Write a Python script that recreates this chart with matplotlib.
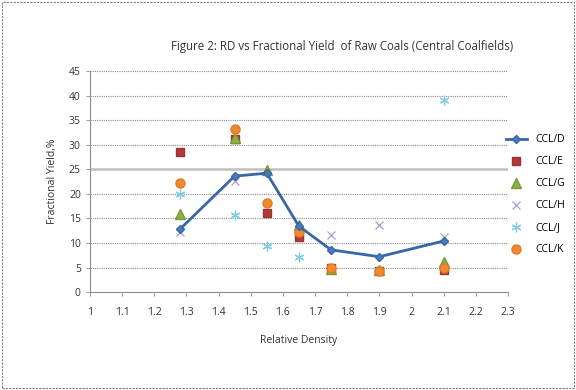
import numpy as np
import matplotlib
matplotlib.use("Agg")
import matplotlib.pyplot as plt
from matplotlib.patches import Rectangle

plt.rcParams['font.family'] = ['Open Sans', 'DejaVu Sans']

# relative density classes
rd = [1.28, 1.45, 1.55, 1.65, 1.75, 1.9, 2.1]
nan = np.nan
# fractional yield, % for each coal sample
ccl_d = [12.8, 23.6, 24.2, 13.4, 8.6, 7.2, 10.4]
ccl_e = [28.6, 31.2, 16.2, 11.2, 4.9, 4.3, 4.5]
ccl_g = [15.8, 31.4, 24.8, 13.7, 4.8, 4.5, 6.2]
ccl_h = [12.3, 22.7, nan, nan, 11.6, 13.6, 11.3]
ccl_j = [19.9, 15.6, 9.4, 7.2, nan, nan, 39.1]
ccl_k = [22.2, 33.1, 18.2, 12.3, 5.0, 4.3, 5.0]

x_ticks = [1, 1.1, 1.2, 1.3, 1.4, 1.5, 1.6, 1.7, 1.8, 1.9, 2, 2.1, 2.2, 2.3]
y_ticks = [0, 5, 10, 15, 20, 25, 30, 35, 40, 45]

fig = plt.figure(figsize=(5.76, 3.9), dpi=100)
ax = fig.add_axes([0.156, 0.251, 0.726, 0.567])

# grid lines
for y in y_ticks[1:]:
    if y == 25:
        ax.axhline(y, color='#c0c0c0', lw=1.8, zorder=0)
    else:
        ax.axhline(y, color='#8c8c8c', lw=0.8, ls=(0, (1, 1)), zorder=0)

ax.plot(rd, ccl_d, color='#3866a6', lw=2, marker='D', ms=4.5,
        mfc='#4a7bc0', mec='#3866a6', label='CCL/D', zorder=5)
ax.plot(rd, ccl_e, ls='none', marker='s', ms=6, color='#b03a3a',
        mec='#a03030', label='CCL/E', zorder=3)
ax.plot(rd, ccl_g, ls='none', marker='^', ms=6.5, color='#8db040',
        mec='#7a9a38', label='CCL/G', zorder=3)
ax.plot(rd, ccl_h, ls='none', marker='x', ms=6, color='#ab9ccf',
        mew=0.9, label='CCL/H', zorder=2)
ax.plot(rd, ccl_j, ls='none', marker=(6, 2, 0), ms=7, color='#7fcde0',
        mew=0.9, label='CCL/J', zorder=2)
ax.plot(rd, ccl_k, ls='none', marker='o', ms=6.5, color='#f08a30',
        mec='#e07a28', label='CCL/K', zorder=4)

ax.set_xlim(1, 2.3)
ax.set_ylim(0, 45)
ax.set_xticks(x_ticks)
ax.set_xticklabels([str(t) for t in x_ticks])
ax.set_yticks(y_ticks)
for s in ['top', 'right']:
    ax.spines[s].set_visible(False)
for s in ['left', 'bottom']:
    ax.spines[s].set_color('#8c8c8c')
    ax.spines[s].set_linestyle((0, (1, 1)))
    ax.spines[s].set_linewidth(0.8)
ax.tick_params(axis='both', colors='#8c8c8c', labelcolor='#333333',
               labelsize=7.5, length=3, width=0.6)
ax.tick_params(axis='x', pad=8)

ax.set_xlabel('Relative Density', fontsize=7.5, color='#333333', labelpad=12)
ax.set_ylabel('Fractional Yield,%', fontsize=7.5, color='#333333', labelpad=8)

fig.text(0.593, 0.882, 'Figure 2: RD vs Fractional Yield  of Raw Coals (Central Coalfields)',
         ha='center', va='center', fontsize=8.3, color='#333333')

ax.legend(loc='center left', bbox_to_anchor=(0.985, 0.44), frameon=False,
          fontsize=7.5, handlelength=2, labelspacing=1.05, borderaxespad=0)

fig.patches.append(Rectangle((0.003, 0.004), 0.994, 0.99, transform=fig.transFigure,
                             fill=False, ec='#808080', lw=0.8, ls=(0, (2, 1))))

fig.savefig('out.png', dpi=100)
